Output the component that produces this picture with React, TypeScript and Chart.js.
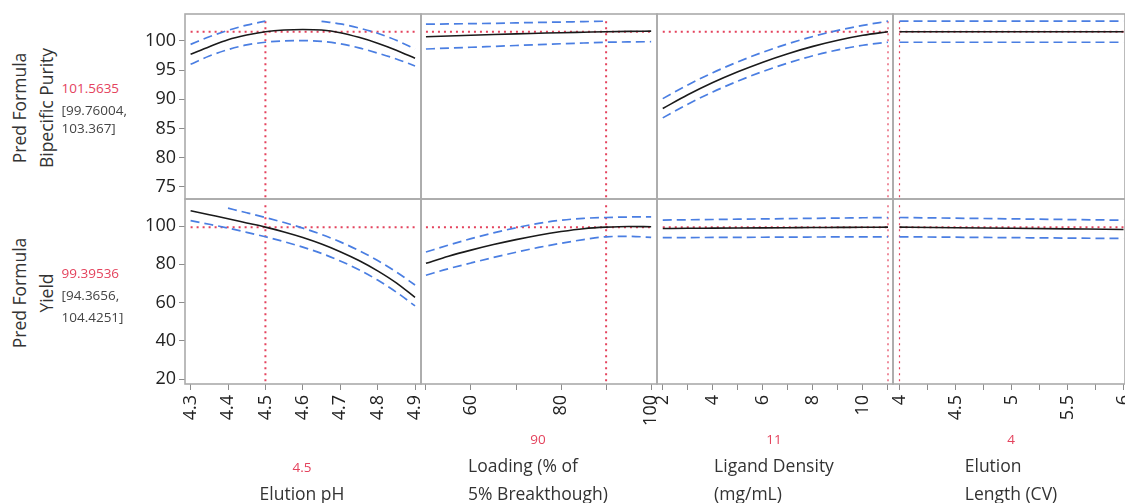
import React, { useEffect, useRef } from 'react';
import { Chart, registerables } from 'chart.js';

Chart.register(...registerables);

const FONT = '"Open Sans", "Noto Sans", sans-serif';
const RED = '#e4435d';
const BLUE = '#4a7ee2';
const BLACK = '#1a1a1a';
const FRAME = '#ababab';
const TICKC = '#8c8c8c';

// ---- factor grids ----
const phX = [4.3, 4.35, 4.4, 4.45, 4.5, 4.55, 4.6, 4.65, 4.7, 4.75, 4.8, 4.85, 4.9];
const loadingX = [50, 55, 60, 65, 70, 75, 80, 85, 90, 95, 100];
const ligandX = [2, 3, 4, 5, 6, 7, 8, 9, 10, 11];
const lengthX = [4, 4.5, 5, 5.5, 6];

// ---- Bipecific Purity ----
const purityPhMean = [97.7, 99.0, 100.2, 101.0, 101.56, 101.85, 101.95, 101.85, 101.4, 100.6, 99.6, 98.4, 97.0];
const purityPhUpper = [99.4, 100.7, 101.8, 102.7, 103.37, null, null, 103.35, 102.9, 102.2, 101.3, 100.1, 98.6];
const purityPhLower = [96.0, 97.4, 98.5, 99.3, 99.76, 100.0, 100.05, 99.9, 99.5, 98.8, 97.9, 96.9, 95.7];

const purityLoadMean = [100.7, 100.82, 100.95, 101.08, 101.2, 101.3, 101.4, 101.48, 101.56, 101.62, 101.66];
const purityLoadUpper = [102.85, 102.9, 102.95, 103.0, 103.08, 103.15, 103.22, 103.3, 103.37, null, null];
const purityLoadLower = [98.6, 98.75, 98.9, 99.05, 99.2, 99.35, 99.5, 99.63, 99.76, 99.82, 99.85];

const purityLigMean = [88.4, 90.75, 92.85, 94.7, 96.35, 97.8, 99.05, 100.1, 100.95, 101.56];
const purityLigUpper = [90.1, 92.45, 94.55, 96.4, 98.05, 99.5, 100.75, 101.8, 102.65, 103.37];
const purityLigLower = [86.8, 89.15, 91.25, 93.1, 94.75, 96.2, 97.45, 98.45, 99.25, 99.76];

const purityLenMean = [101.56, 101.56, 101.56, 101.56, 101.56];
const purityLenUpper = [103.37, 103.37, 103.37, 103.37, 103.37];
const purityLenLower = [99.76, 99.76, 99.76, 99.76, 99.76];

// ---- Yield ----
const yieldPhMean = [108.0, 105.9, 103.8, 101.6, 99.4, 96.9, 94.0, 90.6, 86.6, 82.0, 76.6, 70.3, 62.7];
const yieldPhUpper = [null, null, 109.3, 106.9, 104.43, 101.8, 98.9, 95.6, 91.7, 87.2, 82.0, 76.0, 69.2];
const yieldPhLower = [102.8, 100.9, 98.9, 96.7, 94.37, 91.82, 88.97, 85.67, 81.77, 77.17, 71.77, 65.47, 58.27];

const yieldLoadMean = [80.5, 84.2, 87.4, 90.3, 92.9, 95.2, 97.1, 98.6, 99.4, 99.75, 99.6];
const yieldLoadUpper = [86.4, 90.0, 93.4, 96.4, 99.1, 101.4, 103.0, 104.0, 104.43, 104.7, 104.8];
const yieldLoadLower = [74.3, 77.7, 80.7, 83.6, 86.3, 88.8, 91.0, 92.9, 94.37, 94.6, 94.1];

const yieldLigMean = [98.7, 98.8, 98.88, 98.96, 99.04, 99.12, 99.2, 99.27, 99.34, 99.4];
const yieldLigUpper = [103.1, 103.25, 103.4, 103.55, 103.7, 103.85, 104.0, 104.15, 104.3, 104.43];
const yieldLigLower = [93.9, 93.96, 94.02, 94.08, 94.14, 94.2, 94.25, 94.3, 94.34, 94.37];

const yieldLenMean = [99.4, 99.1, 98.8, 98.5, 98.2];
const yieldLenUpper = [104.43, 104.08, 103.73, 103.38, 103.03];
const yieldLenLower = [94.37, 94.15, 93.92, 93.7, 93.47];

// ---- current settings ----
const currentFactor = [4.5, 90, 11, 4];
const currentFactorText = ['4.5', '90', '11', '4'];
const currentResponse = [101.5635, 99.39536];
const currentResponseText = ['101.5635', '99.39536'];
const responseCI = [['[99.76004,', '103.367]'], ['[94.3656,', '104.4251]']];
const responseClip = [103.37, 110.8];

// ---- axes ----
const factorNames = [['Elution pH'], ['Loading (% of', '5% Breakthough)'], ['Ligand Density', '(mg/mL)'], ['Elution', 'Length (CV)']];
const responseNames = [['Pred Formula', 'Bipecific Purity'], ['Pred Formula', 'Yield']];
const xMin = [4.285, 48.9, 1.77, 3.942];
const xMax = [4.916, 101.3, 11.2, 6.013];
const yMin = [72.9, 17.5];
const yMax = [104.6, 114.1];
const xTickValues = [
  [4.3, 4.4, 4.5, 4.6, 4.7, 4.8, 4.9],
  [50, 60, 70, 80, 90, 100],
  [2, 3, 4, 5, 6, 7, 8, 9, 10, 11],
  [4, 4.25, 4.5, 4.75, 5, 5.25, 5.5, 5.75, 6],
];
const xTickLabels = [
  ['4.3', '4.4', '4.5', '4.6', '4.7', '4.8', '4.9'],
  ['', '60', '', '80', '', '100'],
  ['2', '', '4', '', '6', '', '8', '', '10', ''],
  ['4', '', '4.5', '', '5', '', '5.5', '', '6'],
];
const yTickValues = [[75, 80, 85, 90, 95, 100], [20, 40, 60, 80, 100]];

const factorX = [phX, loadingX, ligandX, lengthX];
const meanSeries = [
  [purityPhMean, purityLoadMean, purityLigMean, purityLenMean],
  [yieldPhMean, yieldLoadMean, yieldLigMean, yieldLenMean],
];
const upperSeries = [
  [purityPhUpper, purityLoadUpper, purityLigUpper, purityLenUpper],
  [yieldPhUpper, yieldLoadUpper, yieldLigUpper, yieldLenUpper],
];
const lowerSeries = [
  [purityPhLower, purityLoadLower, purityLigLower, purityLenLower],
  [yieldPhLower, yieldLoadLower, yieldLigLower, yieldLenLower],
];

// ---- layout (page pixels) ----
const colL = [185, 421, 657, 893];
const colR = [421, 657, 893, 1125];
const rowT = [14, 199];
const rowB = [199, 384];
const Y_AXIS_W = 60;
const X_AXIS_H = 119;

type Panel = { row: number; col: number };
const PANELS: Panel[] = [];
for (let r = 0; r < 2; r++) for (let c = 0; c < 4; c++) PANELS.push({ row: r, col: c });

function geom(p: Panel) {
  const pl = p.col === 0 ? Y_AXIS_W : 2;
  const pt = 2;
  const pr = 2;
  const pb = p.row === 1 ? X_AXIS_H : 2;
  return {
    x: colL[p.col] - pl,
    y: rowT[p.row] - pt,
    w: colR[p.col] - colL[p.col] + pl + pr,
    h: rowB[p.row] - rowT[p.row] + pt + pb,
    pl, pt, pr, pb,
  };
}

const framePlugin = {
  id: 'frame',
  afterDatasetsDraw(chart: any) {
    const { ctx, chartArea: a } = chart;
    ctx.save();
    ctx.strokeStyle = FRAME;
    ctx.lineWidth = 1.6;
    ctx.strokeRect(a.left, a.top, a.right - a.left, a.bottom - a.top);
    ctx.restore();
  },
};

const pts = (xs: number[], ys: (number | null)[]) => xs.map((x, i) => ({ x, y: ys[i] }));

function buildConfig(p: Panel): any {
  const g = geom(p);
  const { row: r, col: c } = p;
  const xs = factorX[c];
  const tv = xTickValues[c];
  const tl = xTickLabels[c];
  const showX = r === 1;
  const showY = c === 0;
  return {
    type: 'line',
    data: {
      datasets: [
        { data: pts(xs, meanSeries[r][c]), borderColor: BLACK, borderWidth: 1.6, pointRadius: 0, cubicInterpolationMode: 'monotone', spanGaps: false },
        { data: pts(xs, upperSeries[r][c]), borderColor: BLUE, borderWidth: 1.7, borderDash: [9, 5], pointRadius: 0, cubicInterpolationMode: 'monotone', spanGaps: false },
        { data: pts(xs, lowerSeries[r][c]), borderColor: BLUE, borderWidth: 1.7, borderDash: [9, 5], pointRadius: 0, cubicInterpolationMode: 'monotone', spanGaps: false },
        { data: [{ x: xs[0], y: currentResponse[r] }, { x: xs[xs.length - 1], y: currentResponse[r] }], borderColor: RED, borderWidth: 2, borderDash: [2, 4], pointRadius: 0 },
        { data: [{ x: currentFactor[c], y: responseClip[r] }, { x: currentFactor[c], y: yMin[r] }], borderColor: RED, borderWidth: c >= 2 ? 1.2 : 2, borderDash: [2, 4], pointRadius: 0 },
      ],
    },
    options: {
      responsive: false,
      animation: false,
      events: [],
      layout: { padding: { left: showY ? 0 : g.pl, right: g.pr, top: g.pt, bottom: showX ? 0 : g.pb } },
      plugins: { legend: { display: false }, tooltip: { enabled: false } },
      scales: {
        x: {
          type: 'linear',
          min: xMin[c],
          max: xMax[c],
          display: showX,
          afterBuildTicks: (s: any) => { s.ticks = tv.map((v) => ({ value: v })); },
          afterFit: (s: any) => {
            s.height = showX ? X_AXIS_H : 0;
            s.paddingLeft = 0; s.paddingRight = 0; s.paddingTop = 0; s.paddingBottom = 0;
          },
          grid: { drawOnChartArea: false, drawTicks: true, tickLength: 6, color: TICKC, lineWidth: 1 },
          border: { display: false },
          ticks: {
            autoSkip: false,
            minRotation: 90,
            maxRotation: 90,
            padding: 5,
            color: '#222',
            font: { family: FONT, size: 18 },
            callback: (v: number) => {
              const i = tv.findIndex((t) => Math.abs(t - v) < 1e-9);
              return i >= 0 ? tl[i] : '';
            },
          },
        },
        y: {
          type: 'linear',
          min: yMin[r],
          max: yMax[r],
          display: showY,
          afterBuildTicks: (s: any) => { s.ticks = yTickValues[r].map((v) => ({ value: v })); },
          afterFit: (s: any) => {
            s.width = showY ? Y_AXIS_W : 0;
            s.paddingTop = 0; s.paddingBottom = 0; s.paddingLeft = 0; s.paddingRight = 0;
          },
          grid: { drawOnChartArea: false, drawTicks: true, tickLength: 6, color: TICKC, lineWidth: 1 },
          border: { display: false },
          ticks: { padding: 3, color: '#222', font: { family: FONT, size: 18 }, callback: (v: number) => String(v) },
        },
      },
    },
    plugins: [framePlugin],
  };
}

const leftTitleX = [19.5, 46.5];
const leftTitleY = [108, 293];
const valueLeft = 61.5;
const valueY = [[88, 110, 128], [272.7, 294.5, 316.5]];
const bottomCenterX = [302, 538, 774, 1011];

export default function App() {
  const refs = useRef<(HTMLCanvasElement | null)[]>([]);
  useEffect(() => {
    const charts = PANELS.map((p, i) => new Chart(refs.current[i] as HTMLCanvasElement, buildConfig(p)));
    return () => charts.forEach((ch) => ch.destroy());
  }, []);

  const abs = (extra: React.CSSProperties): React.CSSProperties => ({ position: 'absolute', whiteSpace: 'nowrap', ...extra });

  return (
    <div style={{ position: 'fixed', left: 0, top: 0, width: 1125, height: 503, overflow: 'hidden', background: '#fff', fontFamily: FONT }}>
      {PANELS.map((p, i) => {
        const g = geom(p);
        return (
          <canvas
            key={i}
            ref={(el) => { refs.current[i] = el; }}
            width={g.w}
            height={g.h}
            style={{ position: 'absolute', left: g.x, top: g.y, width: g.w, height: g.h }}
          />
        );
      })}

      {responseNames.map((names, r) =>
        names.map((n, k) => (
          <div
            key={`rn${r}${k}`}
            style={abs({ left: leftTitleX[k], top: leftTitleY[r], fontSize: 17.5, lineHeight: '17.5px', color: '#333', transform: 'translate(-50%, -50%) rotate(-90deg)' })}
          >
            {n}
          </div>
        ))
      )}

      {[0, 1].map((r) => (
        <React.Fragment key={`val${r}`}>
          <div style={abs({ left: valueLeft, top: valueY[r][0] - 9, fontSize: 13.5, lineHeight: '18px', color: RED })}>{currentResponseText[r]}</div>
          <div style={abs({ left: valueLeft, top: valueY[r][1] - 9, fontSize: 13.5, lineHeight: '18px', color: '#444' })}>{responseCI[r][0]}</div>
          <div style={abs({ left: valueLeft, top: valueY[r][2] - 9, fontSize: 13.5, lineHeight: '18px', color: '#444' })}>{responseCI[r][1]}</div>
        </React.Fragment>
      ))}

      {factorNames.map((lines, c) => {
        const firstCenter = 493 - 28 * (lines.length - 1);
        return (
          <React.Fragment key={`fn${c}`}>
            <div style={abs({ left: bottomCenterX[c], top: firstCenter - 26 - 9, fontSize: 13.5, lineHeight: '18px', color: RED, transform: 'translateX(-50%)' })}>
              {currentFactorText[c]}
            </div>
            <div style={abs({ left: bottomCenterX[c], top: firstCenter - 14, fontSize: 17.5, lineHeight: '28px', color: '#333', textAlign: 'left', transform: 'translateX(-50%)' })}>
              {lines.map((l, k) => (<div key={k}>{l}</div>))}
            </div>
          </React.Fragment>
        );
      })}
    </div>
  );
}
